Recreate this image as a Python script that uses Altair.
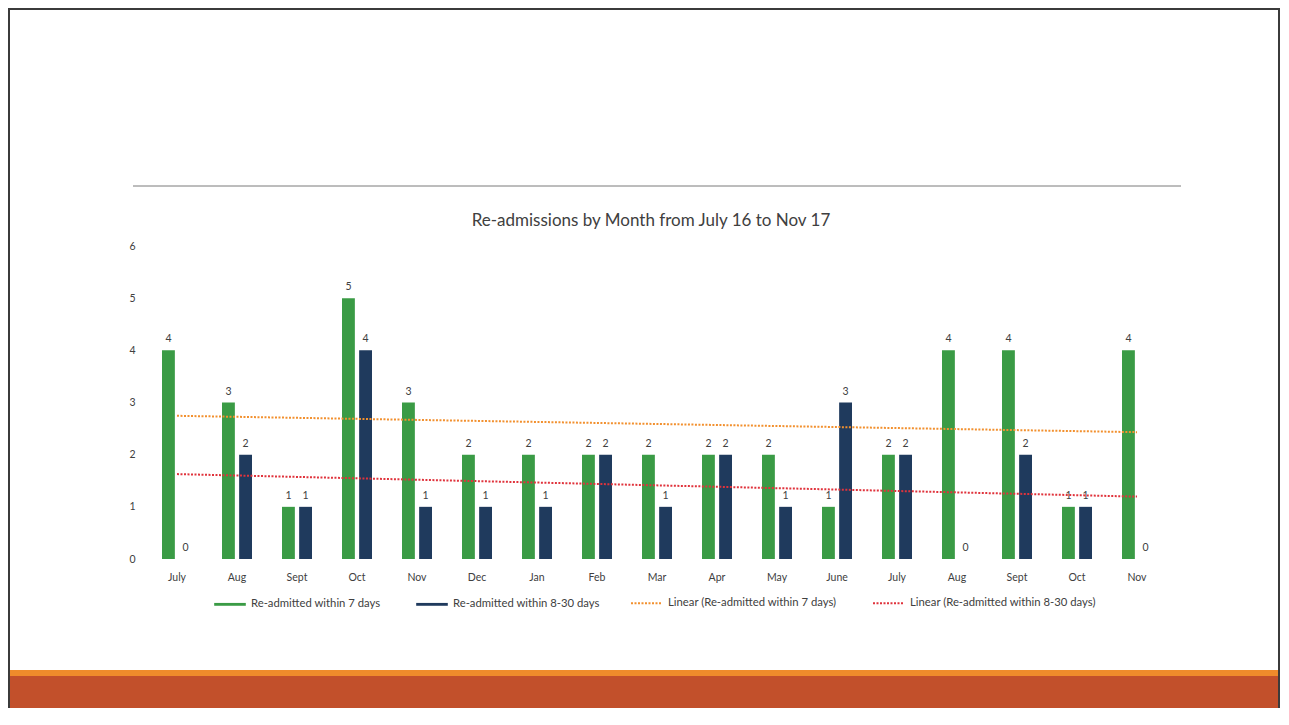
import altair as alt
import pandas as pd

months = ["July", "Aug", "Sept", "Oct", "Nov", "Dec", "Jan", "Feb", "Mar",
          "Apr", "May", "June", "July", "Aug", "Sept", "Oct", "Nov"]
within_7 = [4, 3, 1, 5, 3, 2, 2, 2, 2, 2, 2, 1, 2, 4, 4, 1, 4]
within_8_30 = [0, 2, 1, 4, 1, 1, 1, 2, 1, 2, 1, 3, 2, 0, 2, 1, 0]
series_names = ["Re-admitted within 7 days", "Re-admitted within 8-30 days"]
trend_names = ["Linear (Re-admitted within 7 days)", "Linear (Re-admitted within 8-30 days)"]
y_ticks = [0, 1, 2, 3, 4, 5, 6]
title_text = "Re-admissions by Month from July 16 to Nov 17"

GREEN = "#3A9B45"
NAVY = "#1F3A5D"
ORANGE = "#F2902E"
RED = "#E0333C"
TXT = "#404040"
FONT = "Lato"

rows = []
for i, m in enumerate(months):
    rows.append({"idx": i, "month": m, "series": series_names[0], "value": within_7[i]})
    rows.append({"idx": i, "month": m, "series": series_names[1], "value": within_8_30[i]})
df = pd.DataFrame(rows)

label_expr = "[" + ",".join("'" + m + "'" for m in months) + "][datum.value]"

x_band = alt.X("idx:O",
               scale=alt.Scale(paddingInner=0.5, paddingOuter=0.25),
               axis=alt.Axis(labelExpr=label_expr, title=None, labelAngle=0, ticks=False,
                             domain=False, labelPadding=13, labelFont=FONT, labelFontSize=10.5,
                             labelColor=TXT))
x_off = alt.XOffset("series:N", scale=alt.Scale(domain=series_names, paddingInner=0.25, paddingOuter=0))
y_enc = alt.Y("value:Q", scale=alt.Scale(domain=[0, 6], nice=False),
              axis=alt.Axis(values=y_ticks, title=None, grid=False, domain=False, ticks=False,
                            labelPadding=12, labelFont=FONT, labelFontSize=10.5, labelColor=TXT))

rect_path = "M-1,-0.09H1V0.09H-1Z"

base = alt.Chart(df)

bars = base.mark_bar().encode(
    x=x_band, xOffset=x_off, y=y_enc,
    color=alt.Color("series:N", scale=alt.Scale(domain=series_names, range=[GREEN, NAVY]),
                    legend=alt.Legend(orient="none", legendX=66, legendY=341, direction="horizontal",
                                      columns=2, columnPadding=34, title=None, symbolType=rect_path,
                                      symbolSize=1000, symbolOpacity=1, labelFont=FONT,
                                      labelFontSize=11.3, labelColor=TXT, labelOffset=4,
                                      labelLimit=400)),
)

labels = base.mark_text(baseline="bottom", dy=-6, font=FONT, fontSize=10.5, color=TXT).encode(
    x=x_band, xOffset=x_off, y=y_enc, text="value:Q"
)

trend = base.transform_calculate(
    trend="'Linear (' + datum.series + ')'"
).transform_regression("idx", "value", groupby=["trend"]).mark_line(
    strokeDash=[2, 1.5], strokeWidth=2
).encode(
    x=alt.X("idx:Q", scale=alt.Scale(domain=[-0.5, 16.5], nice=False, zero=False), axis=None),
    y=alt.Y("value:Q"),
    color=alt.Color("trend:N", scale=alt.Scale(domain=trend_names, range=[ORANGE, RED]),
                    legend=alt.Legend(orient="none", legendX=483, legendY=341, direction="horizontal",
                                      columns=2, columnPadding=32, title=None, symbolType="stroke",
                                      symbolDash=[2, 1.5], symbolStrokeWidth=2, symbolSize=900,
                                      labelFont=FONT, labelFontSize=11.3, labelColor=TXT,
                                      labelOffset=6, labelLimit=400)),
)

one = alt.Data(values=[{"t": title_text}])
border = alt.Chart(one).mark_rect(filled=False, stroke="#3b3b3b", strokeWidth=2).encode(
    x=alt.value(-138), x2=alt.value(1132), y=alt.value(-237), y2=alt.value(476))
strip = alt.Chart(one).mark_rect(fill="#EF8B2B").encode(
    x=alt.value(-138), x2=alt.value(1132), y=alt.value(424), y2=alt.value(431))
band = alt.Chart(one).mark_rect(fill="#C2502B").encode(
    x=alt.value(-138), x2=alt.value(1132), y=alt.value(430), y2=alt.value(476))
hrule = alt.Chart(one).mark_rule(stroke="#7a7a7a", strokeWidth=1).encode(
    x=alt.value(-14), x2=alt.value(1034), y=alt.value(-60))
title = alt.Chart(one).mark_text(font=FONT, fontSize=17, color=TXT, baseline="middle",
                                 align="center").encode(
    x=alt.value(504), y=alt.value(-25), text="t:N")

main = alt.layer(bars, labels)

chart = alt.layer(strip, band, border, hrule, title, main, trend).resolve_scale(
    x="independent", color="independent"
).properties(
    width=1020, height=313,
    background="white",
    autosize=alt.AutoSizeParams(type="none"),
    padding={"left": 139, "top": 238, "right": 114, "bottom": 149},
).configure_view(stroke=None)

chart.save("out.html", embed_options={"renderer": "svg", "actions": False})
